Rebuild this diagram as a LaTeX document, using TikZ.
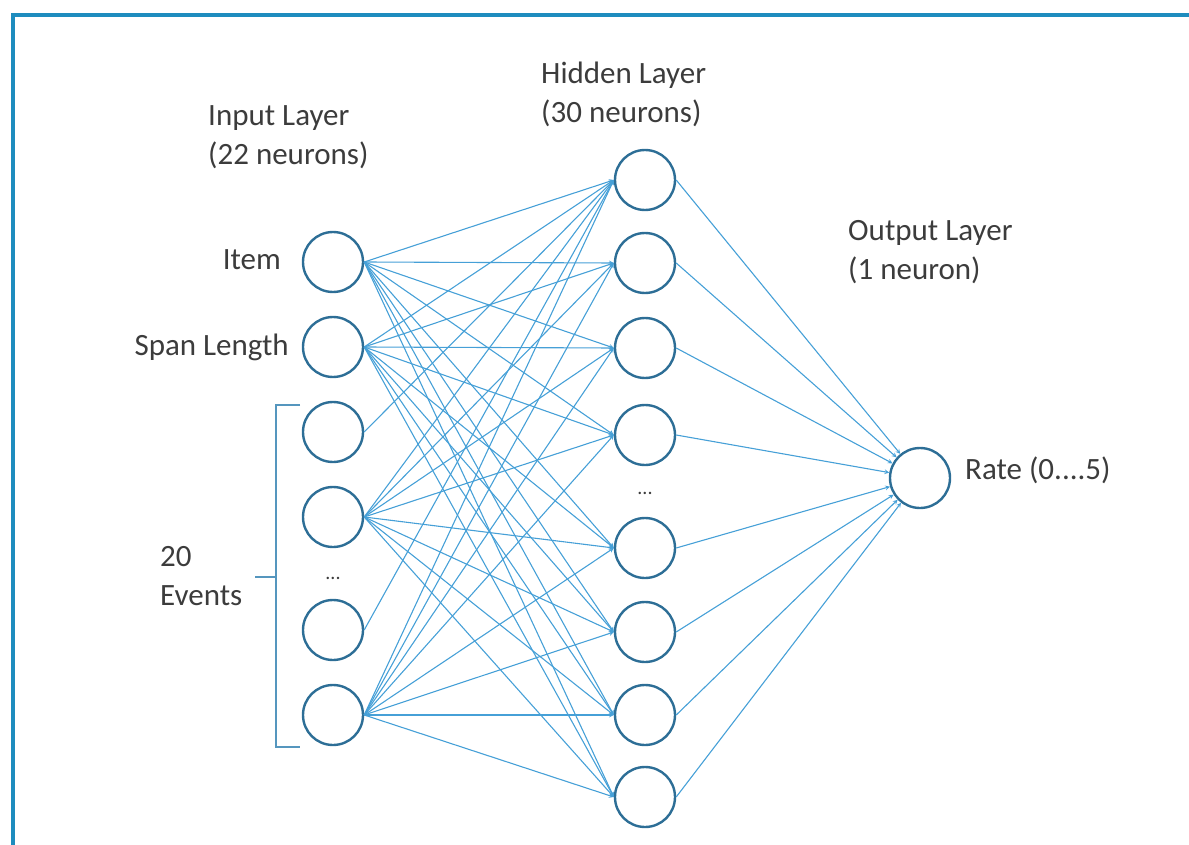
\documentclass[tikz,border=0pt]{standalone}
\usepackage{fontspec}
\setmainfont{Carlito}
\usepackage{tikz}
\usetikzlibrary{arrows}
\definecolor{wireblue}{RGB}{70,160,215}
\definecolor{ringblue}{RGB}{45,110,150}
\definecolor{braceblue}{RGB}{85,150,190}
\definecolor{frameblue}{RGB}{30,140,190}
\definecolor{txtgray}{RGB}{60,60,60}
\tikzstyle{neuron}=[circle, draw=ringblue, line width=2.4pt, minimum size=60pt, inner sep=0pt]
\tikzstyle{txt}=[inner sep=0pt, text=txtgray, font=\fontsize{31}{39}\selectfont]
\tikzset{wire/.style={wireblue, line width=1.1pt, -stealth}}

\begin{document}
\begin{tikzpicture}[x=1pt,y=-1pt]
		\useasboundingbox (0,0) rectangle (1189,845);
		\draw[frameblue, line width=4pt] (13,845) -- (13,15) -- (1189,15);
		% layers
		\node[neuron] (i1) at (333,262) {};
		\node[neuron] (i2) at (333,347) {};
		\node[neuron] (i3) at (333,432) {};
		\node[neuron] (i4) at (333,517) {};
		\node[neuron] (i5) at (333,630) {};
		\node[neuron] (i6) at (333,715) {};
		\node[neuron] (h1) at (645,180) {};
		\node[neuron] (h2) at (645,263) {};
		\node[neuron] (h3) at (645,348) {};
		\node[neuron] (h4) at (645,435) {};
		\node[neuron] (h5) at (645,548) {};
		\node[neuron] (h6) at (645,632) {};
		\node[neuron] (h7) at (645,715) {};
		\node[neuron] (h8) at (645,797) {};
		\node[neuron] (out) at (920,478) {};
		% connectors
		\foreach \i in {1,2,4,6}
			\foreach \j in {1,...,8}
				\draw[wire] (i\i.east) -- (h\j.west);
		\draw[wire] (i3.east) -- (h1.west);
		\draw[wire] (i5.east) -- (h1.west);
		\foreach \j in {1,...,8}
			\draw[wire] (h\j.east) -- (out);
		% texts
		\node[txt, anchor=west, align=left] (inlbl) at (208,137) {Input Layer\\(22 neurons)};
		\node[txt, anchor=west, align=left] (hidlbl) at (541,94) {Hidden Layer\\(30 neurons)};
		\node[txt, anchor=west, align=left] (outlbl) at (848,252) {Output Layer\\(1 neuron)};
		\node[txt, anchor=east] (item) at (281,260) {Item};
		\node[txt, anchor=east] (span) at (289,347) {Span Length};
		\node[txt, anchor=west, align=left] (events) at (160,576) {20\\Events};
		\node[txt, anchor=west] (rate) at (965,470) {Rate (0....5)};
		\node[txt, font=\fontsize{20}{24}\selectfont] (idots) at (333,578) {...};
		\node[txt, font=\fontsize{20}{24}\selectfont] (hdots) at (645,493) {...};
		\draw[braceblue, line width=1.2pt] (300,405) -- (276,405) -- (276,747) -- (300,747);
		\draw[braceblue, line width=1.2pt] (276,577) -- (255,577);
		\end{tikzpicture}
\end{document}
